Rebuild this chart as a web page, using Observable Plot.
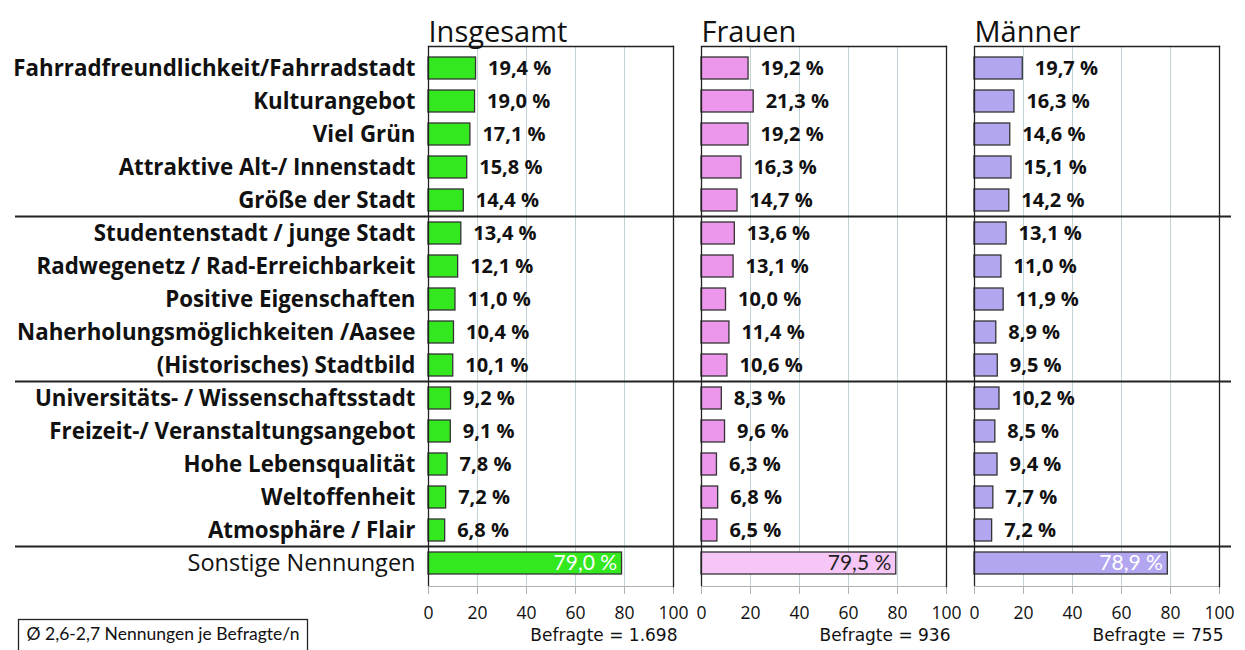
<!DOCTYPE html>
<html>
<head>
<meta charset="utf-8">
<script src="https://cdn.jsdelivr.net/npm/d3@7"></script>
<script src="https://cdn.jsdelivr.net/npm/@observablehq/plot@0.6"></script>
<style>
  html, body { margin: 0; padding: 0; background: #fff; }
  #chart svg { display: block; }
</style>
</head>
<body>
<div id="chart"></div>
<script>
const categories = [
  "Fahrradfreundlichkeit/Fahrradstadt",
  "Kulturangebot",
  "Viel Grün",
  "Attraktive Alt-/ Innenstadt",
  "Größe der Stadt",
  "Studentenstadt / junge Stadt",
  "Radwegenetz / Rad-Erreichbarkeit",
  "Positive Eigenschaften",
  "Naherholungsmöglichkeiten /Aasee",
  "(Historisches) Stadtbild",
  "Universitäts- / Wissenschaftsstadt",
  "Freizeit-/ Veranstaltungsangebot",
  "Hohe Lebensqualität",
  "Weltoffenheit",
  "Atmosphäre / Flair",
  "Sonstige Nennungen"
];
const groups = ["Insgesamt", "Frauen", "Männer"];
const insgesamt = [19.4, 19.0, 17.1, 15.8, 14.4, 13.4, 12.1, 11.0, 10.4, 10.1, 9.2, 9.1, 7.8, 7.2, 6.8, 79.0];
const frauen    = [19.2, 21.3, 19.2, 16.3, 14.7, 13.6, 13.1, 10.0, 11.4, 10.6, 8.3, 9.6, 6.3, 6.8, 6.5, 79.5];
const maenner   = [19.7, 16.3, 14.6, 15.1, 14.2, 13.1, 11.0, 11.9, 8.9, 9.5, 10.2, 8.5, 9.4, 7.7, 7.2, 78.9];
const befragte  = ["1.698", "936", "755"];
const xTicks = [0, 20, 40, 60, 80, 100];
const gridTicks = [20, 40, 60, 80];
const note = "Ø 2,6-2,7 Nennungen je Befragte/n";

const barColors   = {"Insgesamt": "#33e81f", "Frauen": "#ec96ec", "Männer": "#b3a6f0"};
const otherColors = {"Insgesamt": "#33e81f", "Frauen": "#f6c6f6", "Männer": "#b3a6f0"};
const otherText   = {"Insgesamt": "#ffffff", "Frauen": "#222222", "Männer": "#ffffff"};

const series = [insgesamt, frauen, maenner];
const rows = [];
groups.forEach((g, gi) => categories.forEach((c, i) => rows.push({
  group: g, cat: c, value: series[gi][i], other: i === categories.length - 1
})));
const fmt = v => v.toFixed(1).replace(".", ",") + " %";
const FONT = "Lato, 'Open Sans', sans-serif";
const BOLD = "'Open Sans', Lato, sans-serif";

const chart = Plot.plot({
  width: 1245,
  height: 650,
  marginLeft: 428,
  marginRight: 26,
  marginTop: 46,
  marginBottom: 64,
  style: {fontFamily: FONT, background: "#fff", color: "#111"},
  fx: {domain: groups, paddingInner: 0.1026, paddingOuter: 0, axis: null, label: null},
  x: {domain: [0, 100], axis: null, label: null},
  y: {domain: categories, paddingInner: 0.32, paddingOuter: 0.16, axis: null},
  color: {type: "identity"},
  marks: [
    Plot.gridX(gridTicks, {stroke: "#c3d2d6", strokeOpacity: 1, strokeWidth: 1}),
    Plot.frame({anchor: "bottom", stroke: "#b0b0b0", strokeWidth: 1}),
    Plot.axisX({ticks: xTicks, tickSize: 8, tickPadding: 12, stroke: "#b0b0b0", fontSize: 17.5, fill: "#111",
      tickFormat: d => d, label: null, fontFamily: BOLD}),
    Plot.frame({anchor: "top", stroke: "#222", strokeWidth: 1.3}),
    Plot.frame({anchor: "right", stroke: "#222", strokeWidth: 1.3}),
    Plot.barX(rows, {fx: "group", y: "cat", x: "value",
      fill: d => d.other ? otherColors[d.group] : barColors[d.group],
      stroke: "#333", strokeWidth: 1.3}),
    Plot.ruleX([0], {stroke: "#222", strokeWidth: 1.3}),
    Plot.text(rows.filter(d => !d.other), {fx: "group", y: "cat", x: "value",
      text: d => fmt(d.value), dx: 12, textAnchor: "start",
      fontWeight: "bold", fontSize: 20, fill: "#111", fontFamily: BOLD}),
    Plot.text(rows.filter(d => d.other), {fx: "group", y: "cat", x: "value",
      text: d => fmt(d.value), dx: -5, textAnchor: "end",
      fontSize: 21, fill: d => otherText[d.group], fontFamily: FONT}),
    Plot.text(rows.filter(d => d.group === groups[0] && !d.other), {fx: "group", y: "cat",
      text: "cat", frameAnchor: "left", dx: -13, textAnchor: "end",
      fontWeight: "bold", fontSize: 22.3, fill: "#111", fontFamily: BOLD}),
    Plot.text(rows.filter(d => d.group === groups[0] && d.other), {fx: "group", y: "cat",
      text: "cat", frameAnchor: "left", dx: -13, textAnchor: "end",
      fontSize: 23.5, fill: "#111", fontFamily: BOLD}),
    Plot.text(groups, {fx: d => d, text: d => d, frameAnchor: "top-left",
      dy: -25, textAnchor: "start", fontSize: 29, fill: "#111", fontFamily: BOLD}),
    Plot.text(groups, {fx: d => d, text: (d, i) => "Befragte = " + befragte[i], frameAnchor: "bottom-right",
      dy: 54, dx: 4, textAnchor: "end", fontSize: 17, fill: "#111", fontFamily: "'DejaVu Sans', sans-serif"})
  ]
});

document.getElementById("chart").appendChild(chart);

// Group separators spanning the full width, positioned through the y scale
const y = chart.scale("y");
const svg = d3.select(chart);
const gap = (y.step - y.bandwidth) / 2;
[5, 10, 15].forEach(i => {
  const yy = y.apply(categories[i]) - gap;
  svg.append("line")
    .attr("x1", 15).attr("x2", 1231)
    .attr("y1", yy).attr("y2", yy)
    .attr("stroke", "#222").attr("stroke-width", 2);
});

// Note box, bottom left
svg.append("rect")
  .attr("x", 18.5).attr("y", 619.5).attr("width", 289).attr("height", 40)
  .attr("fill", "none").attr("stroke", "#222").attr("stroke-width", 1.3);
svg.append("text")
  .attr("x", 163).attr("y", 636)
  .attr("text-anchor", "middle").attr("dominant-baseline", "middle")
  .attr("font-family", FONT).attr("font-size", 17.5).attr("fill", "#111")
  .text(note);
</script>
</body>
</html>
